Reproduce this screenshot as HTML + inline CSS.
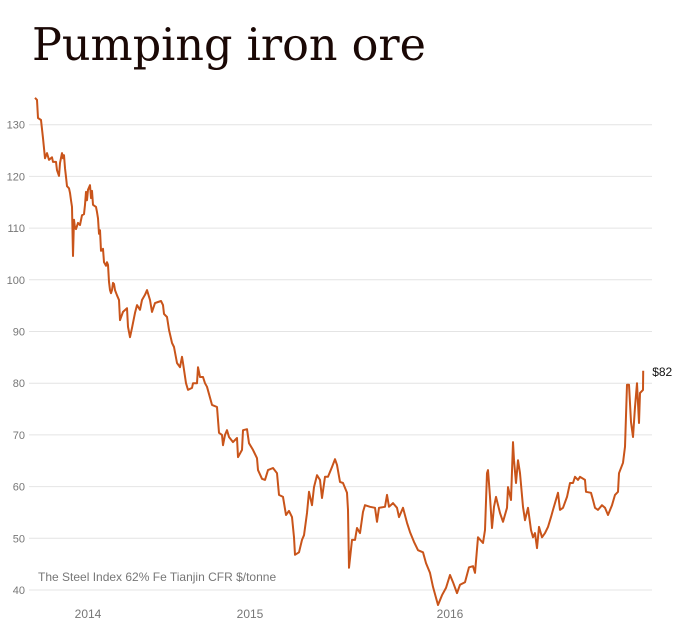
<!DOCTYPE html>
<html><head><meta charset="utf-8"><style>
body{margin:0;background:#fff;}
svg{display:block;}
</style></head><body>
<svg id="chart" width="682" height="638" xmlns="http://www.w3.org/2000/svg">
<text x="32" y="60" font-family="'DejaVu Serif', 'Liberation Serif', serif" font-size="45" fill="#1a0805" textLength="394" lengthAdjust="spacingAndGlyphs">Pumping iron ore</text>
<g id="grid"></g>
<g id="xaxis"></g>
<text x="38" y="581" font-family="'Liberation Sans', sans-serif" font-size="12" fill="#777">The Steel Index 62% Fe Tianjin CFR $/tonne</text>
<g id="series"></g>
</svg>
<script>
const yTicks = [40,50,60,70,80,90,100,110,120,130];
const xTickVals = [2014.19, 2015.0, 2016.0];
const xTickLabels = ["2014","2015","2016"];
const dates = [2013.925,2013.935,2013.94,2013.955,2013.965,2013.975,2013.985,2013.995,2014.01,2014.015,2014.03,2014.035,2014.045,2014.05,2014.06,2014.065,2014.07,2014.075,2014.08,2014.085,2014.095,2014.1,2014.105,2014.11,2014.115,2014.12,2014.125,2014.13,2014.14,2014.15,2014.16,2014.17,2014.175,2014.18,2014.185,2014.19,2014.2,2014.205,2014.21,2014.215,2014.23,2014.235,2014.24,2014.245,2014.25,2014.255,2014.265,2014.27,2014.28,2014.285,2014.29,2014.295,2014.3,2014.305,2014.31,2014.315,2014.32,2014.325,2014.335,2014.345,2014.35,2014.365,2014.385,2014.39,2014.4,2014.41,2014.425,2014.435,2014.45,2014.46,2014.475,2014.485,2014.5,2014.51,2014.525,2014.54,2014.555,2014.565,2014.57,2014.585,2014.595,2014.61,2014.62,2014.635,2014.65,2014.66,2014.665,2014.68,2014.69,2014.71,2014.715,2014.735,2014.74,2014.75,2014.765,2014.775,2014.785,2014.81,2014.835,2014.845,2014.86,2014.865,2014.875,2014.885,2014.895,2014.915,2014.935,2014.94,2014.96,2014.965,2014.985,2014.995,2015.015,2015.035,2015.04,2015.06,2015.075,2015.09,2015.115,2015.135,2015.145,2015.165,2015.18,2015.195,2015.21,2015.22,2015.225,2015.245,2015.26,2015.27,2015.285,2015.295,2015.31,2015.32,2015.335,2015.35,2015.36,2015.375,2015.39,2015.41,2015.425,2015.435,2015.45,2015.465,2015.485,2015.49,2015.495,2015.51,2015.525,2015.535,2015.55,2015.565,2015.575,2015.6,2015.625,2015.635,2015.645,2015.675,2015.685,2015.695,2015.715,2015.735,2015.745,2015.765,2015.785,2015.8,2015.82,2015.84,2015.865,2015.88,2015.9,2015.915,2015.94,2015.96,2015.98,2016.0,2016.015,2016.035,2016.05,2016.075,2016.095,2016.115,2016.125,2016.14,2016.165,2016.175,2016.185,2016.19,2016.2,2016.21,2016.22,2016.23,2016.25,2016.265,2016.285,2016.29,2016.305,2016.315,2016.32,2016.33,2016.34,2016.35,2016.365,2016.375,2016.39,2016.405,2016.415,2016.425,2016.435,2016.445,2016.46,2016.475,2016.49,2016.505,2016.515,2016.54,2016.55,2016.565,2016.585,2016.6,2016.615,2016.625,2016.64,2016.65,2016.675,2016.68,2016.705,2016.715,2016.725,2016.74,2016.76,2016.775,2016.79,2016.81,2016.825,2016.84,2016.845,2016.865,2016.875,2016.885,2016.895,2016.905,2016.915,2016.925,2016.935,2016.945,2016.95,2016.965,2016.966];
const prices = [135.2,134.8,131.3,130.9,127.4,123.5,124.5,123.2,123.7,122.8,122.8,121.2,120.1,122.6,124.5,123.5,124.1,121.6,119.9,118.1,117.7,116.8,115.4,114.1,104.6,111.6,110.0,109.8,111.0,110.6,112.5,112.7,114.5,117.0,115.4,117.4,118.3,115.8,117.2,114.5,114.1,113.1,111.9,108.9,109.6,105.6,106.0,103.4,102.7,103.4,102.9,99.6,98.0,97.4,98.0,99.4,99.2,98.0,97.0,96.1,92.2,93.8,94.5,90.9,88.9,90.7,93.6,95.1,94.2,96.1,97.1,98.0,96.1,93.8,95.5,95.7,95.9,95.1,93.4,92.8,90.3,87.8,87.0,83.9,83.1,85.1,83.9,80.0,78.7,79.1,80.0,80.0,83.1,81.2,81.2,80.0,79.3,75.8,75.4,70.4,70.0,68.0,70.0,70.9,69.6,68.6,69.4,65.7,67.1,70.9,71.1,68.4,67.1,65.5,63.2,61.5,61.3,63.2,63.6,62.6,58.4,58.0,54.5,55.3,54.1,50.2,46.8,47.3,49.7,50.6,54.9,59.0,56.4,59.9,62.2,61.3,57.8,61.9,61.9,63.8,65.3,64.2,60.9,60.7,58.8,55.5,44.3,49.7,49.7,52.0,51.0,55.1,56.4,56.1,55.9,53.2,55.9,56.1,58.4,56.1,56.8,55.9,54.1,55.9,53.0,51.2,49.3,47.7,47.3,45.2,43.3,40.6,37.1,39.0,40.4,42.9,41.5,39.4,41.0,41.5,44.4,44.6,43.3,50.2,49.1,51.6,62.6,63.2,58.0,52.0,56.1,58.0,54.9,53.2,55.9,59.9,57.4,68.6,65.1,60.7,65.1,62.6,56.1,53.5,55.9,51.6,50.2,51.0,48.1,52.2,50.2,51.0,52.2,54.1,55.5,58.8,55.5,55.9,58.0,60.7,60.7,61.9,61.3,61.9,61.3,59.0,58.8,57.4,55.9,55.5,56.4,55.9,54.5,56.4,58.4,59.0,62.6,64.6,67.7,79.7,79.7,72.5,69.6,75.4,80.0,72.3,78.1,78.7,82.4];
const lastLabel = "$82";

const NS = "http://www.w3.org/2000/svg";
function yScale(v){ return 590 - (v - 40) * 5.17; }
function xScale(t){ return 250 + (t - 2015) * 200; }
function mk(tag, attrs, parent){ const e=document.createElementNS(NS,tag); for(const k in attrs) e.setAttribute(k,attrs[k]); parent.appendChild(e); return e; }

const grid = document.getElementById('grid');
yTicks.forEach(v=>{
  const y = yScale(v);
  const l = mk('line',{x1:29,x2:652,y1:y,y2:y,stroke:'#e4e4e4','stroke-width':1},grid);
  
  
  const t = mk('text',{x:25,y:y+4,'text-anchor':'end','font-family':"'Liberation Sans', sans-serif",'font-size':11,fill:'#777'},grid);
  t.textContent = v;
  
  
});
const xa = document.getElementById('xaxis');
xTickVals.forEach((tv,i)=>{
  const t = mk('text',{x:xScale(tv),y:618,'text-anchor':'middle','font-family':"'Liberation Sans', sans-serif",'font-size':12,fill:'#777'},xa);
  t.textContent = xTickLabels[i];
  
  
});
const s = document.getElementById('series');
let pts = dates.map((d,i)=>xScale(d).toFixed(1)+','+yScale(prices[i]).toFixed(1)).join(' ');
const pl = mk('polyline',{points:pts,fill:'none',stroke:'#c9541a','stroke-width':2,'stroke-linejoin':'round'},s);


const n = dates.length-1;
const lab = mk('text',{x:xScale(dates[n])+9,y:yScale(prices[n])+5,'font-family':"'Liberation Sans', sans-serif",'font-size':12,fill:'#111'},s);
lab.textContent = lastLabel;


</script>
</body></html>
